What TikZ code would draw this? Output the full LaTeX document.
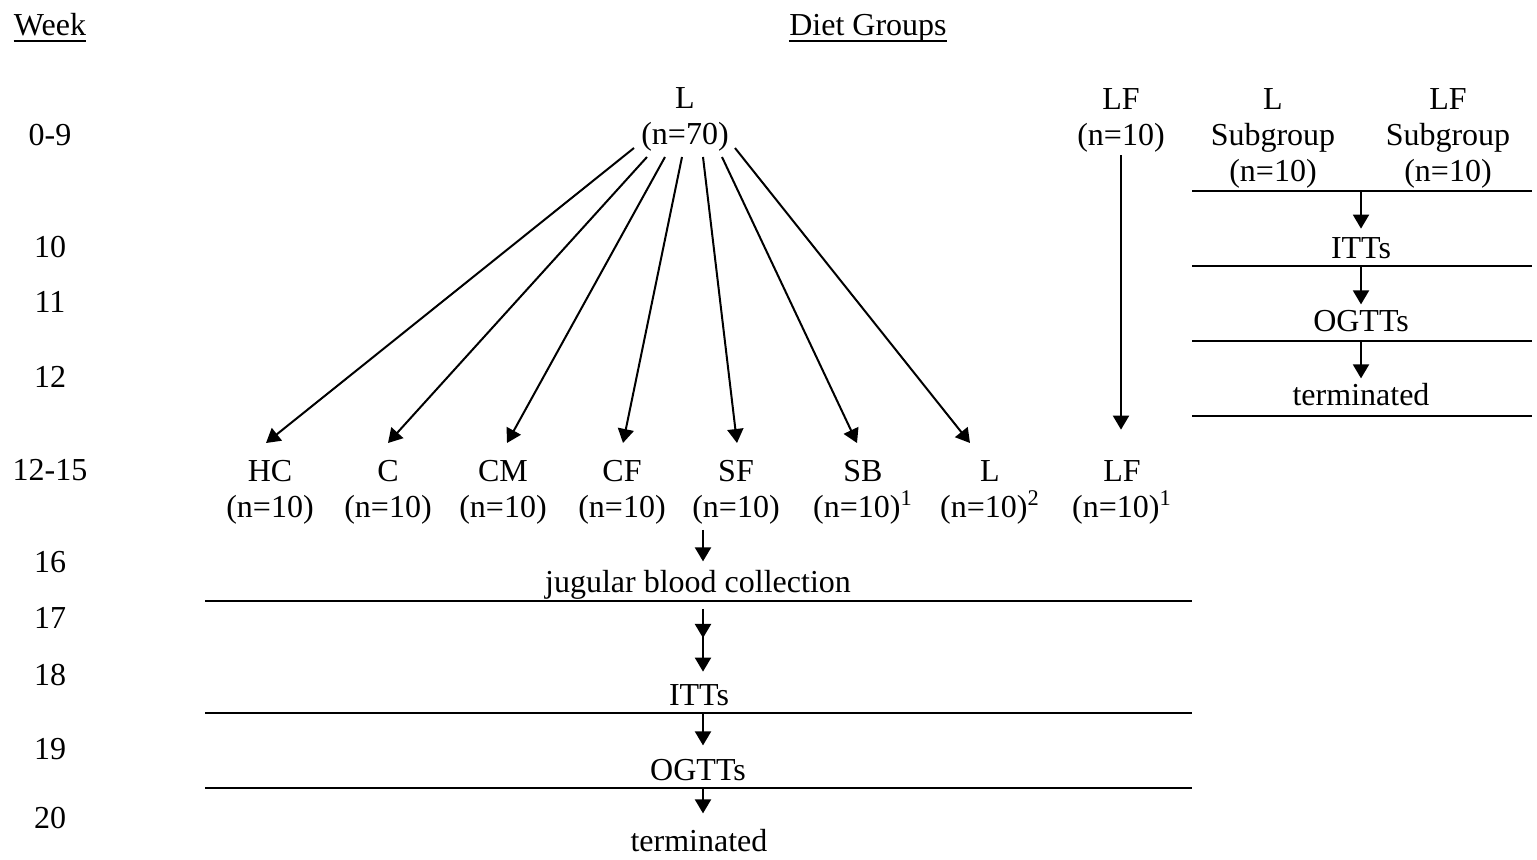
\documentclass[tikz,border=0pt]{standalone}
\usepackage{fontspec}
\setmainfont{Liberation Serif}
\usetikzlibrary{arrows.meta}
\begin{document}
\begin{tikzpicture}[x=0.5pt,y=-0.5pt,
  txt/.style={inner sep=0pt, anchor=base, align=center, font=\fontsize{16pt}{18pt}\selectfont},
  arr/.style={line width=1pt, -{Triangle[length=7pt,width=8pt]}},
  rulel/.style={line width=1pt},
  uline/.style={line width=0.7pt}]
\useasboundingbox (0,0) rectangle (1537,860);

% headers
\node[txt] (week) at (50,36) {Week};
\draw[uline] ([yshift=-2.6pt]week.base west) -- ([yshift=-2.6pt]week.base east);
\node[txt] (diet) at (868,36) {Diet Groups};
\draw[uline] ([yshift=-2.6pt]diet.base west) -- ([yshift=-2.6pt]diet.base east);

% week labels
\node[txt] (w1) at (50,146) {0-9};
\node[txt] (w2) at (50,258) {10};
\node[txt] (w3) at (50,313) {11};
\node[txt] (w4) at (50,388) {12};
\node[txt] (w5) at (50,481) {12-15};
\node[txt] (w6) at (50,573) {16};
\node[txt] (w7) at (50,629) {17};
\node[txt] (w8) at (50,685) {18};
\node[txt] (w9) at (50,759) {19};
\node[txt] (w10) at (50,828) {20};

% top groups (base anchor = baseline of last line)
\node[txt] (ltop) at (685,145) {L\\(n=70)};
\node[txt] (lftop) at (1121,146) {LF\\(n=10)};
\node[txt] (lsub) at (1273,182) {L\\Subgroup\\(n=10)};
\node[txt] (lfsub) at (1448,182) {LF\\Subgroup\\(n=10)};

% bottom groups
\node[txt] (hc) at (270,518) {HC\\(n=10)};
\node[txt] (c)  at (388,518) {C\\(n=10)};
\node[txt] (cm) at (503,518) {CM\\(n=10)};
\node[txt] (cf) at (622,518) {CF\\(n=10)};
\node[txt] (sf) at (736,518) {SF\\(n=10)};
\node[txt] (sb) at (863,518) {SB\\(n=10)\textsuperscript{1}};
\node[txt] (lb) at (990,518) {L\\(n=10)\textsuperscript{2}};
\node[txt] (lfb) at (1122,518) {LF\\(n=10)\textsuperscript{1}};

% fan-out arrows from L (n=70)
\coordinate (s1) at (634,148); \coordinate (e1) at (266,443);
\coordinate (s2) at (647,157); \coordinate (e2) at (388,443);
\coordinate (s3) at (665,157); \coordinate (e3) at (507,443);
\coordinate (s4) at (682,157); \coordinate (e4) at (623,443);
\coordinate (s5) at (703,157); \coordinate (e5) at (737,443);
\coordinate (s6) at (722,157); \coordinate (e6) at (857,443);
\coordinate (s7) at (735,148); \coordinate (e7) at (970,443);
\foreach \i in {1,...,7} {\draw[arr] (s\i) -- (e\i);}

% LF arrow
\draw[arr, shorten <=1pt, shorten >=15.5pt] (lftop.south) -- (lftop.south |- lfb.north);

% right-side subgroup timeline
\coordinate (rl1a) at (1192,191); \coordinate (rl1b) at (1532,191);
\coordinate (rl2a) at (1192,266); \coordinate (rl2b) at (1532,266);
\coordinate (rl3a) at (1192,341); \coordinate (rl3b) at (1532,341);
\coordinate (rl4a) at (1192,416); \coordinate (rl4b) at (1532,416);
\foreach \i in {1,...,4} {\draw[rulel] (rl\i a) -- (rl\i b);}
\node[txt] (ritts) at (1361,259) {ITTs};
\node[txt] (rogtt) at (1361,332) {OGTTs};
\node[txt] (rterm) at (1361,406) {terminated};
\coordinate (ra1) at (1361,191);
\coordinate (ra2) at (1361,266);
\coordinate (ra3) at (1361,341);
\draw[arr, shorten >=4.5pt] (ra1) -- (ra1 |- ritts.north);
\draw[arr, shorten >=3pt] (ra2) -- (ra2 |- rogtt.north);
\draw[arr, shorten >=2.5pt] (ra3) -- (ra3 |- rterm.north);

% lower timeline
\node[txt] (jug) at (698,593) {jugular blood collection};
\node[txt] (litts) at (699,705) {ITTs};
\node[txt] (logtt) at (698,780) {OGTTs};
\node[txt] (lterm) at (699,851) {terminated};
\coordinate (ll1a) at (205,601); \coordinate (ll1b) at (1192,601);
\coordinate (ll2a) at (205,713); \coordinate (ll2b) at (1192,713);
\coordinate (ll3a) at (205,788); \coordinate (ll3b) at (1192,788);
\foreach \i in {1,...,3} {\draw[rulel] (ll\i a) -- (ll\i b);}

\coordinate (la0) at (703,530);
\draw[arr, shorten >=4.5pt] (la0) -- (la0 |- jug.north);
\coordinate (la1) at (703,609); \coordinate (la2) at (703,638);
\draw[arr] (la1) -- (la2);
\coordinate (la3) at (703,632);
\draw[arr, shorten >=6pt] (la3) -- (la3 |- litts.north);
\coordinate (la4) at (703,713);
\draw[arr, shorten >=6.5pt] (la4) -- (la4 |- logtt.north);
\coordinate (la5) at (703,788);
\draw[arr, shorten >=7.5pt] (la5) -- (la5 |- lterm.north);
\end{tikzpicture}
\end{document}
